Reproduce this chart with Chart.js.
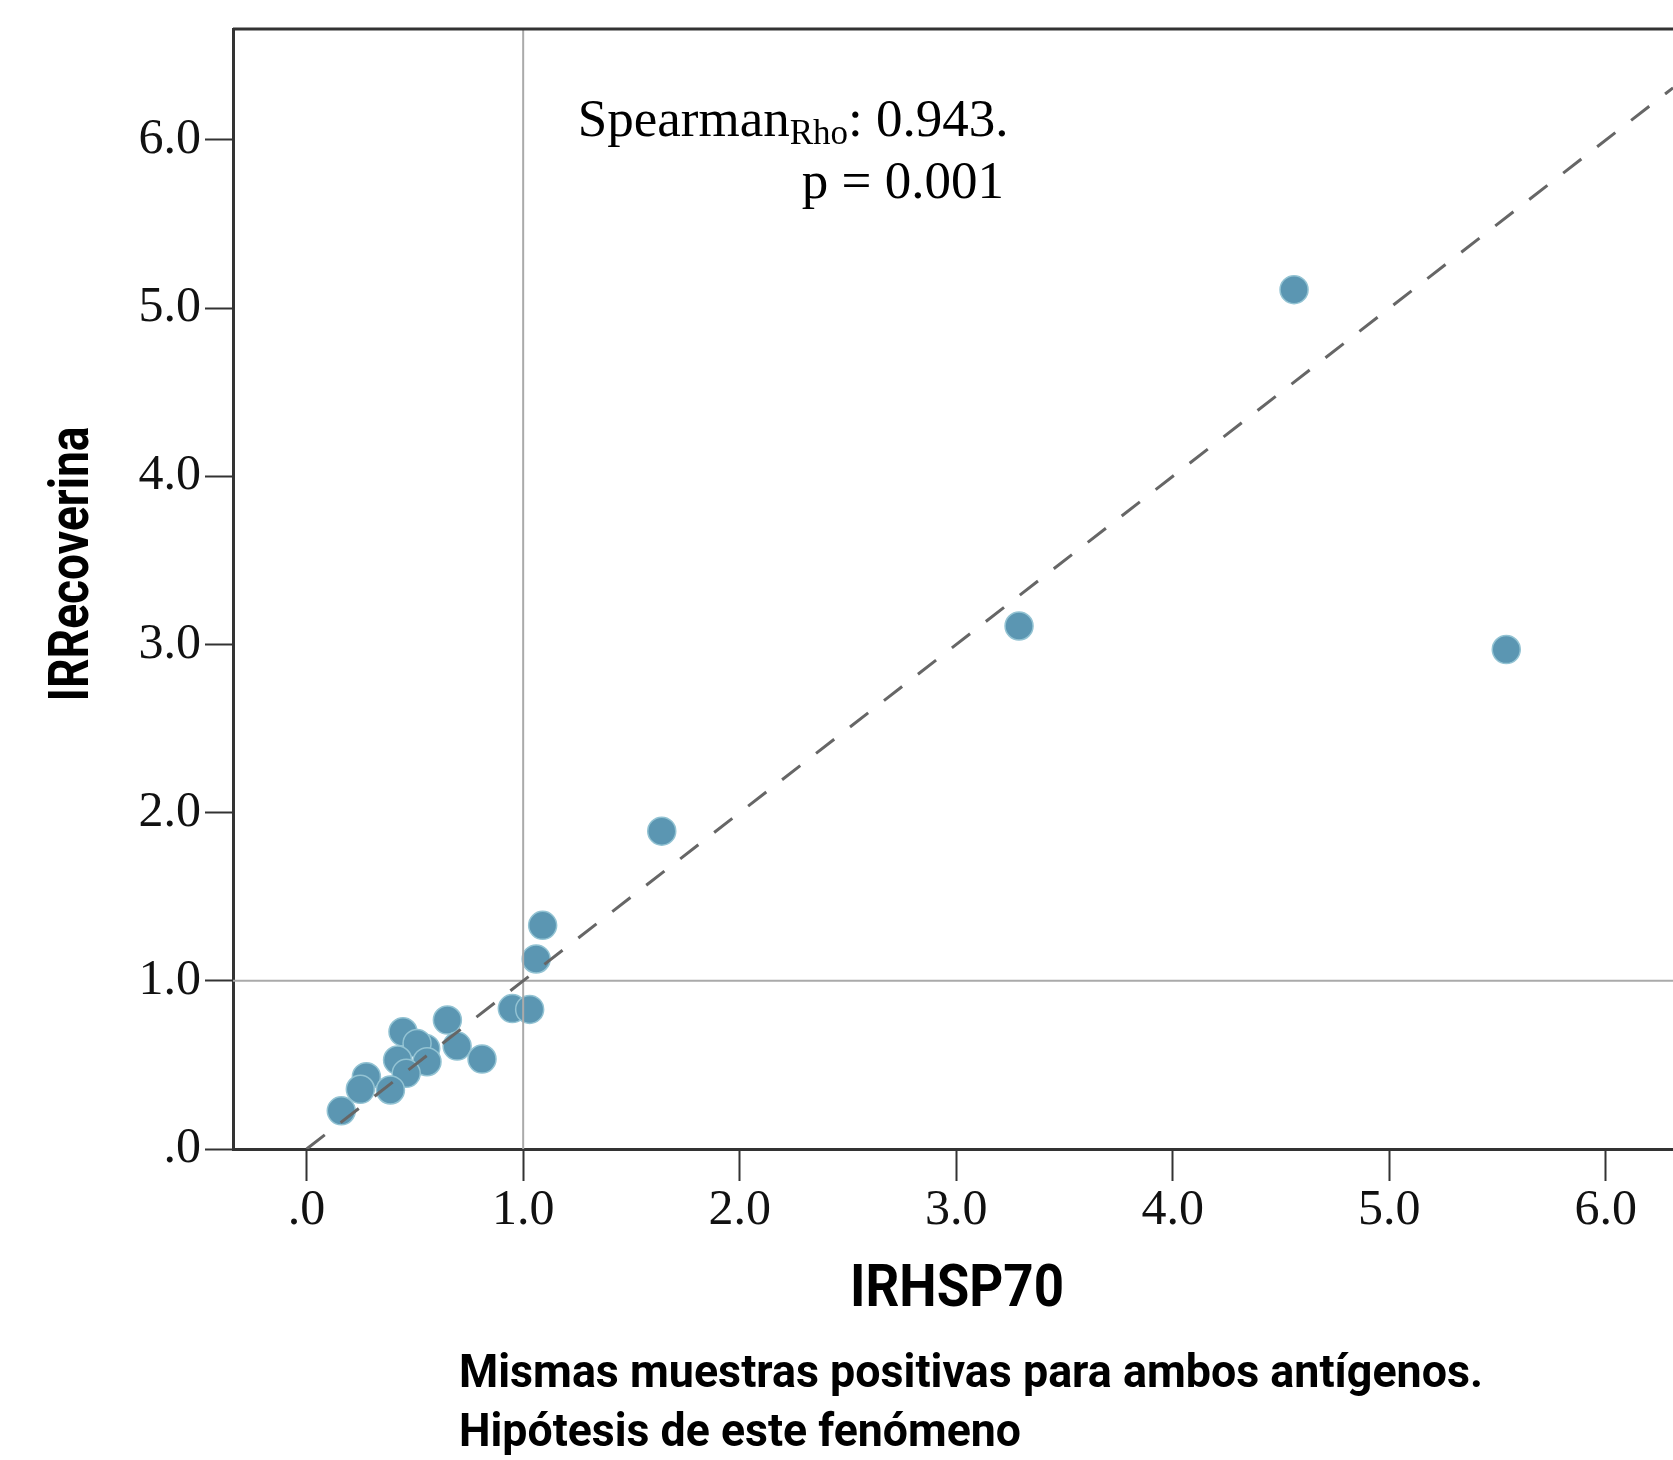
<!DOCTYPE html>
<html>
<head>
<meta charset="utf-8">
<script src="https://cdn.jsdelivr.net/npm/chart.js@4/dist/chart.umd.min.js"></script>
<style>
  html, body { margin: 0; padding: 0; background: #fff; }
  #container { width: 1673px; height: 1460px; }
</style>
</head>
<body>
<div id="container"><canvas id="myChart" width="1673" height="1460"></canvas></div>
<script>
'use strict'
// valores (IRHSP70 vs IRRecoverina)
const xValues = [4.56, 3.29, 5.54, 1.64, 1.09, 1.06, 0.95, 1.03, 0.65, 0.445, 0.55, 0.51, 0.695, 0.81, 0.42, 0.556, 0.46, 0.276, 0.248, 0.387, 0.16]
const yValues = [5.11, 3.11, 2.97, 1.89, 1.33, 1.13, 0.835, 0.83, 0.767, 0.697, 0.598, 0.628, 0.612, 0.535, 0.529, 0.519, 0.45, 0.43, 0.355, 0.351, 0.227]

const xTickValues = [0, 1, 2, 3, 4, 5, 6]
const xTickLabels = ['.0', '1.0', '2.0', '3.0', '4.0', '5.0', '6.0']
const yTickValues = [0, 1, 2, 3, 4, 5, 6]
const yTickLabels = ['.0', '1.0', '2.0', '3.0', '4.0', '5.0', '6.0']

const xRange = [-0.34, 6.31]
const yRange = [0, 6.66]
const refX = 1
const refY = 1
const fitLine = [0, 6.31]

const xTitle = 'IRHSP70'
const yTitle = 'IRRecoverina'
const statsName = 'Spearman'
const statsSub = 'Rho'
const statsValue = ': 0.943.'
const statsP = 'p = 0.001'
const caption = ['Mismas muestras positivas para ambos antígenos.', 'Hipótesis de este fenómeno']

const sans = "Roboto, 'DejaVu Sans', sans-serif"
const serif = "'Liberation Serif', 'DejaVu Serif', serif"

const puntos = xValues.map((x, i) => ({x: x, y: yValues[i]}))

// texto estrecho: fillText con ancho maximo comprime la fuente
const textoEstrecho = function(ctx, texto, x, y, ancho) {
    ctx.fillText(texto, x, y, ancho)
}

const extras = {
    id: 'extras',
    afterDraw(chart) {
        const ctx = chart.ctx
        const area = chart.chartArea
        const sx = chart.scales.x
        const sy = chart.scales.y
        ctx.save()

        // marco superior
        ctx.strokeStyle = '#333'
        ctx.lineWidth = 3
        ctx.beginPath()
        ctx.moveTo(area.left, area.top)
        ctx.lineTo(area.right, area.top)
        ctx.stroke()

        ctx.fillStyle = '#000'

        // titulo eje x
        ctx.font = 'bold 60px ' + sans
        ctx.textAlign = 'center'
        ctx.textBaseline = 'middle'
        textoEstrecho(ctx, xTitle, (area.left + area.right) / 2 + 4, 1291, 214)

        // titulo eje y
        ctx.save()
        ctx.translate(74, 564)
        ctx.rotate(-Math.PI / 2)
        ctx.font = 'bold 56px ' + sans
        textoEstrecho(ctx, yTitle, 0, 0, 275)
        ctx.restore()

        // texto de correlacion
        let x = sx.getPixelForValue(1.252)
        let y = sy.getPixelForValue(6.023)
        ctx.textAlign = 'left'
        ctx.textBaseline = 'alphabetic'
        ctx.font = '53px ' + serif
        ctx.fillText(statsName, x, y)
        x += ctx.measureText(statsName).width
        ctx.font = '35px ' + serif
        ctx.fillText(statsSub, x, y + 8)
        x += ctx.measureText(statsSub).width
        ctx.font = '53px ' + serif
        ctx.fillText(statsValue, x, y)
        ctx.textAlign = 'right'
        ctx.fillText(statsP, sx.getPixelForValue(3.22), sy.getPixelForValue(5.654))

        // pie de figura
        ctx.textAlign = 'left'
        ctx.font = 'bold 47px ' + sans
        textoEstrecho(ctx, caption[0], 459, 1387, 1024)
        textoEstrecho(ctx, caption[1], 459, 1446, 562)
        ctx.restore()
    }
}

const ctx = document.getElementById('myChart')

new Chart(ctx, {
    type: 'scatter',
    data: {
        datasets: [{
            data: puntos,
            backgroundColor: '#5b96b2',
            borderColor: '#93c3d3',
            borderWidth: 1.5,
            pointRadius: 14,
            order: 3,
        }, {
            data: [{x: fitLine[0], y: fitLine[0]}, {x: fitLine[1], y: fitLine[1]}],
            showLine: true,
            borderColor: '#666',
            borderWidth: 3,
            borderDash: [23, 20],
            pointRadius: 0,
            order: 0,
        }, {
            data: [{x: refX, y: yRange[0]}, {x: refX, y: yRange[1]}],
            showLine: true,
            borderColor: '#aaa',
            borderWidth: 2,
            pointRadius: 0,
            order: 1,
        }, {
            data: [{x: xRange[0], y: refY}, {x: xRange[1], y: refY}],
            showLine: true,
            borderColor: '#aaa',
            borderWidth: 2,
            pointRadius: 0,
            order: 1,
        }],
    },
    options: {
        responsive: false,
        animation: false,
        devicePixelRatio: 1,
        layout: {autoPadding: false, padding: {top: 29, left: 0, right: 0, bottom: 0}},
        plugins: {
            legend: {display: false},
            tooltip: {enabled: false},
        },
        scales: {
            x: {
                type: 'linear',
                min: xRange[0],
                max: xRange[1],
                afterBuildTicks: (s) => { s.ticks = xTickValues.map((v) => ({value: v})) },
                afterFit: (s) => {
                    s.height = 311
                    s.paddingLeft = 0
                    s.paddingRight = 0
                },
                ticks: {
                    callback: (v) => xTickLabels[xTickValues.indexOf(v)],
                    font: {family: serif, size: 50},
                    color: '#111',
                    padding: 0,
                    maxRotation: 0,
                },
                grid: {
                    drawOnChartArea: false,
                    drawTicks: true,
                    tickLength: 32,
                    tickColor: '#333',
                    tickWidth: 2,
                },
                border: {display: true, color: '#333', width: 3},
            },
            y: {
                type: 'linear',
                min: yRange[0],
                max: yRange[1],
                afterBuildTicks: (s) => { s.ticks = yTickValues.map((v) => ({value: v})) },
                afterFit: (s) => {
                    s.width = 233
                    s.paddingTop = 0
                    s.paddingBottom = 0
                },
                ticks: {
                    callback: (v) => yTickLabels[yTickValues.indexOf(v)],
                    font: {family: serif, size: 50},
                    color: '#111',
                    padding: 4,
                },
                grid: {
                    drawOnChartArea: false,
                    drawTicks: true,
                    tickLength: 28,
                    tickColor: '#333',
                    tickWidth: 2,
                },
                border: {display: true, color: '#333', width: 3},
            },
        },
    },
    plugins: [extras],
})
</script>
</body>
</html>
